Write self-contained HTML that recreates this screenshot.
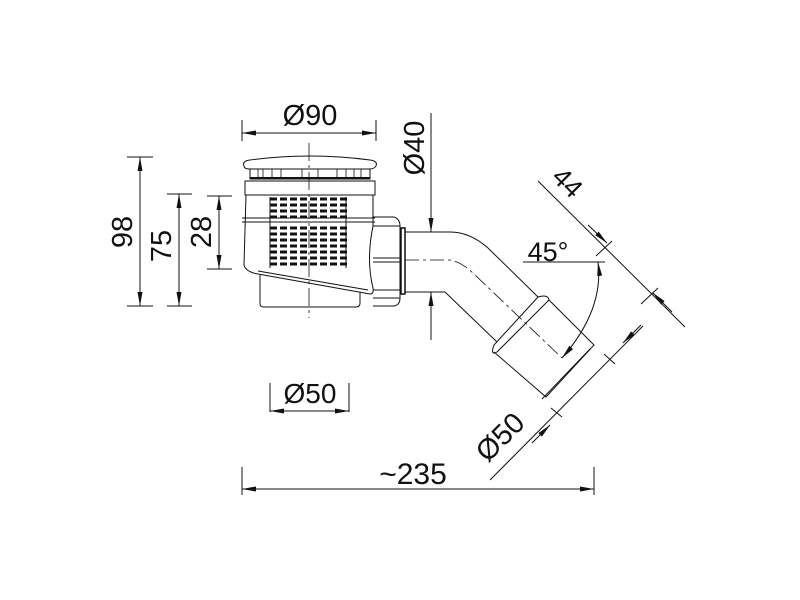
<!DOCTYPE html>
<html><head><meta charset="utf-8"><style>
html,body{margin:0;padding:0;background:#fff;}
svg{display:block;}
text{font-family:"Liberation Sans",sans-serif;fill:#111;}
</style></head><body>
<svg width="800" height="600" viewBox="0 0 800 600" xmlns="http://www.w3.org/2000/svg">
<defs>
<marker id="a" viewBox="0 0 14 5" refX="14" refY="2.5" markerWidth="14" markerHeight="5" markerUnits="userSpaceOnUse" orient="auto-start-reverse"><path d="M0,0L14,2.5L0,5z" fill="#111"/></marker>
</defs>
<g stroke="#111" fill="none" stroke-width="1">
<line x1="127" y1="157" x2="153" y2="157"/><line x1="127" y1="306" x2="153" y2="306"/>
<line x1="140" y1="157" x2="140" y2="306" marker-start="url(#a)" marker-end="url(#a)"/>
<line x1="167" y1="194" x2="192" y2="194"/><line x1="167" y1="306" x2="192" y2="306"/>
<line x1="179" y1="194" x2="179" y2="306" marker-start="url(#a)" marker-end="url(#a)"/>
<line x1="207" y1="196" x2="232" y2="196"/><line x1="207" y1="269" x2="232" y2="269"/>
<line x1="219" y1="196" x2="219" y2="269" marker-start="url(#a)" marker-end="url(#a)"/>
<line x1="242" y1="120" x2="242" y2="141"/><line x1="376" y1="120" x2="376" y2="141"/>
<line x1="242" y1="133" x2="376" y2="133" marker-start="url(#a)" marker-end="url(#a)"/>
<line x1="270" y1="383" x2="270" y2="412"/><line x1="349" y1="383" x2="349" y2="412"/>
<line x1="270" y1="411" x2="349" y2="411" marker-start="url(#a)" marker-end="url(#a)"/>
<line x1="242" y1="467" x2="242" y2="495"/><line x1="594" y1="467" x2="594" y2="495"/>
<line x1="242" y1="489" x2="594" y2="489" marker-start="url(#a)" marker-end="url(#a)"/>
<line x1="309" y1="143" x2="309" y2="318" stroke-dasharray="18,4,3,4" stroke-width="0.8"/>
<path d="M244,166 Q242,161 250,160 Q310,152 370,160 Q378,161 376,166 Q374,169 370,169 L250,169 Q244,169 244,166z"/>
<rect x="250" y="169" width="120" height="10"/>
<line x1="250" y1="178" x2="370" y2="178" stroke-width="2"/>
<g stroke-width="0.8"><line x1="258" y1="169" x2="258" y2="179"/><line x1="263" y1="169" x2="263" y2="179"/><line x1="272" y1="169" x2="272" y2="179"/><line x1="281" y1="169" x2="281" y2="179"/><line x1="302" y1="169" x2="302" y2="179"/><line x1="318" y1="169" x2="318" y2="179"/><line x1="337" y1="169" x2="337" y2="179"/><line x1="346" y1="169" x2="346" y2="179"/><line x1="354" y1="169" x2="354" y2="179"/><line x1="361" y1="169" x2="361" y2="179"/></g>
<rect x="245" y="181" width="130" height="14"/>
<path d="M246,195 L244,265 Q246,272 258,274 L370,294 Q374,294 373,288 Q366,260 373,226 L373,195"/>
<line x1="242" y1="218" x2="375" y2="218"/><line x1="242" y1="222" x2="375" y2="222"/>
<line x1="258" y1="271" x2="368" y2="290"/>
<path d="M260,275 L260,304 Q260,307 264,307 L356,307 Q360,307 360,303 L360,292"/>
<g stroke-width="3" stroke-dasharray="7,3">
<line x1="270" y1="199" x2="348" y2="199"/><line x1="270" y1="205" x2="348" y2="205"/><line x1="270" y1="211" x2="348" y2="211"/><line x1="270" y1="217" x2="348" y2="217"/><line x1="270" y1="228" x2="348" y2="228"/><line x1="270" y1="234" x2="348" y2="234"/><line x1="270" y1="240" x2="348" y2="240"/><line x1="270" y1="246" x2="348" y2="246"/><line x1="270" y1="252" x2="348" y2="252"/><line x1="270" y1="258" x2="348" y2="258"/><line x1="270" y1="264" x2="348" y2="264"/>
</g>
<line x1="270" y1="197" x2="270" y2="268"/><line x1="346" y1="197" x2="346" y2="268"/>
<path d="M373,217 L394,217 Q400,219 400,226 L400,298 Q400,305 394,306 L373,306"/>
<line x1="373" y1="226" x2="400" y2="226"/><line x1="373" y1="258" x2="400" y2="258"/><line x1="373" y1="262" x2="400" y2="262"/><line x1="373" y1="290" x2="400" y2="290"/><line x1="373" y1="298" x2="400" y2="298"/>
<rect x="401" y="228" width="4" height="66" stroke-width="1.5"/>
<path d="M405,232 L450,232 Q470,232 488,248 L538,297"/>
<path d="M405,292 L445,292 L497,342"/>
<path d="M405,260 L450,260 Q462,262 475,275 L562,358" stroke-dasharray="14,4,3,4" stroke-width="0.8"/>
<path d="M538,297 Q548,294 549,300 L497,352 Q490,356 494,345z"/>
<path d="M549,300 L594,345 L546,397 L494,352"/>
<line x1="590" y1="349" x2="542" y2="399"/>
<line x1="431" y1="113" x2="431" y2="232" marker-end="url(#a)"/>
<line x1="431" y1="340" x2="431" y2="292" marker-end="url(#a)"/>
<line x1="538" y1="181" x2="685" y2="327"/>
<line x1="588" y1="225" x2="607" y2="243" marker-end="url(#a)"/>
<line x1="672" y1="312" x2="653" y2="293" marker-end="url(#a)"/>
<line x1="596" y1="256" x2="612" y2="241"/><line x1="641" y1="304" x2="658" y2="288"/>
<line x1="523" y1="262" x2="605" y2="262"/>
<path d="M598,262 Q604,310 562,358" marker-start="url(#a)" marker-end="url(#a)"/>
<line x1="490" y1="480" x2="643" y2="326"/>
<line x1="551" y1="408" x2="562" y2="417"/><line x1="604" y1="354" x2="615" y2="364"/>
<line x1="532" y1="443" x2="550" y2="425" marker-end="url(#a)"/>
<line x1="641" y1="325" x2="623" y2="343" marker-end="url(#a)"/>
</g>
<text x="310" y="125" font-size="29" text-anchor="middle">Ø90</text>
<text x="310" y="403" font-size="28" text-anchor="middle">Ø50</text>
<text x="413" y="484" font-size="30" text-anchor="middle">~235</text>
<text transform="translate(132,232) rotate(-90)" font-size="29" text-anchor="middle">98</text>
<text transform="translate(171,246) rotate(-90)" font-size="29" text-anchor="middle">75</text>
<text transform="translate(211,232) rotate(-90)" font-size="29" text-anchor="middle">28</text>
<text transform="translate(424,148) rotate(-90)" font-size="29" text-anchor="middle">Ø40</text>
<text x="548" y="261" font-size="27" text-anchor="middle">45°</text>
<text transform="translate(561,189) rotate(45)" font-size="27" text-anchor="middle">44</text>
<text transform="translate(507,444) rotate(-45)" font-size="29" text-anchor="middle">Ø50</text>
</svg>
</body></html>
